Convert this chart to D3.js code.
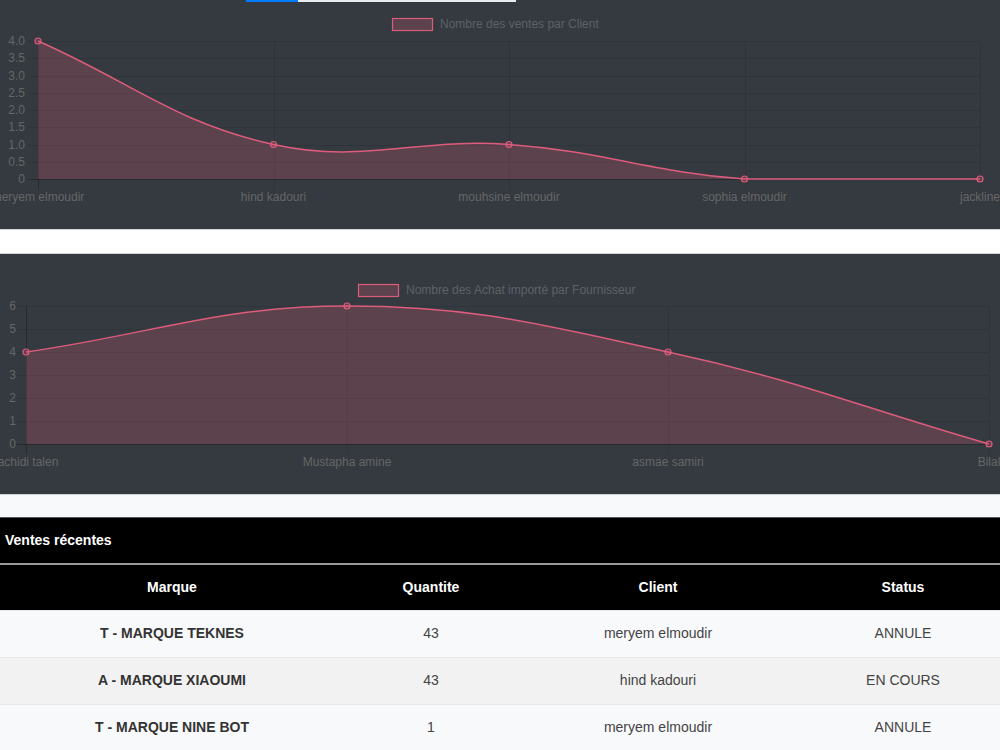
<!DOCTYPE html>
<html lang="fr">
<head>
<meta charset="UTF-8">
<title>Tableau de bord</title>
<script src="https://d3js.org/d3.v7.min.js"></script>
<style>
    body { margin: 0; background: #fff; overflow: hidden; }
    svg { display: block; font-family: "Liberation Sans", Arial, Helvetica, sans-serif; }
</style>
</head>
<body>
<svg width="1000" height="750"></svg>
<script>
    // chart 1 : ventes par client
    const clients = ["meryem elmoudir", "hind kadouri", "mouhsine elmoudir", "sophia elmoudir", "jackline"];
    const ventes = [4, 1, 1, 0, 0];
    const ventesTicks = [0, 0.5, 1, 1.5, 2, 2.5, 3, 3.5, 4];

    // chart 2 : achats par fournisseur
    const fournisseurs = ["rachidi talen", "Mustapha amine", "asmae samiri", "Bilal"];
    const achats = [4, 6, 4, 0];
    const achatsTicks = [0, 1, 2, 3, 4, 5, 6];

    // table ventes recentes
    const colonnes = ["Marque", "Quantite", "Client", "Status"];
    const marques = ["T - MARQUE TEKNES", "A - MARQUE XIAOUMI", "T - MARQUE NINE BOT"];
    const quantites = [43, 43, 1];
    const clientsVente = ["meryem elmoudir", "hind kadouri", "meryem elmoudir"];
    const statuts = ["ANNULE", "EN COURS", "ANNULE"];

    const svg = d3.select("svg");
    const lineColor = "#dd5c7c";
    const fillColor = "rgba(255,99,132,0.2)";
    const tickColor = "#666";

    // chart.js style bezier (tension 0.4, control points capped to the area)
    function splinePath(pts, area, baseY) {
        const t = 0.4;
        const cps = pts.map((p, i) => {
            const prev = pts[i - 1] || p, next = pts[i + 1] || p;
            const d01 = Math.hypot(p[0] - prev[0], p[1] - prev[1]);
            const d12 = Math.hypot(next[0] - p[0], next[1] - p[1]);
            let s01 = d01 / (d01 + d12), s12 = d12 / (d01 + d12);
            if (isNaN(s01)) s01 = 0;
            if (isNaN(s12)) s12 = 0;
            const fa = t * s01, fb = t * s12;
            const cap = c => [Math.max(area.left, Math.min(area.right, c[0])), Math.max(area.top, Math.min(area.bottom, c[1]))];
            return {
                prev: cap([p[0] - fa * (next[0] - prev[0]), p[1] - fa * (next[1] - prev[1])]),
                next: cap([p[0] + fb * (next[0] - prev[0]), p[1] + fb * (next[1] - prev[1])])
            };
        });
        const path = d3.path();
        path.moveTo(pts[0][0], pts[0][1]);
        for (let i = 1; i < pts.length; i++) {
            const a = cps[i - 1].next, b = cps[i].prev;
            path.bezierCurveTo(a[0], a[1], b[0], b[1], pts[i][0], pts[i][1]);
        }
        const line = path.toString();
        if (baseY == null) return line;
        const last = pts[pts.length - 1];
        return line + `L${last[0]},${baseY}L${pts[0][0]},${baseY}Z`;
    }

    function drawChart(opt) {
        const g = svg.append("g");
        g.append("rect").attr("x", 0).attr("y", opt.top).attr("width", 1000).attr("height", opt.height).attr("fill", "#343a40");

        const x = d3.scalePoint().domain(opt.labels).range(opt.xRange);
        const y = d3.scaleLinear().domain([0, d3.max(opt.ticks)]).range(opt.yRange);
        const area = { left: opt.xRange[0], right: opt.xRange[1], top: opt.yRange[1], bottom: opt.yRange[0] };

        // horizontal grid + ticks
        g.selectAll(".hgrid").data(opt.ticks).join("line")
            .attr("x1", area.left - 10).attr("x2", area.right)
            .attr("y1", d => Math.round(y(d)) + 0.5).attr("y2", d => Math.round(y(d)) + 0.5)
            .attr("stroke", d => d === 0 ? "rgba(0,0,0,0.25)" : "rgba(0,0,0,0.1)");
        g.selectAll(".ylab").data(opt.ticks).join("text")
            .attr("x", area.left - opt.labelGap).attr("y", d => y(d)).attr("dy", "0.35em")
            .attr("text-anchor", "end").attr("font-size", 12).attr("fill", tickColor)
            .text(opt.tickFormat);

        // vertical grid + ticks
        g.selectAll(".vgrid").data(opt.labels).join("line")
            .attr("x1", d => Math.round(x(d)) + 0.5).attr("x2", d => Math.round(x(d)) + 0.5)
            .attr("y1", area.top).attr("y2", area.bottom + 10)
            .attr("stroke", (d, i) => i === 0 ? "rgba(0,0,0,0.25)" : "rgba(0,0,0,0.1)");
        g.selectAll(".xlab").data(opt.labels).join("text")
            .attr("x", d => x(d)).attr("y", area.bottom + 22)
            .attr("text-anchor", "middle").attr("font-size", 12).attr("fill", tickColor)
            .text(d => d);

        // area + line
        const pts = opt.labels.map((l, i) => [x(l), y(opt.values[i])]);
        g.append("path").attr("d", splinePath(pts, area, y(0))).attr("fill", fillColor);
        g.append("path").attr("d", splinePath(pts, area)).attr("fill", "none")
            .attr("stroke", lineColor).attr("stroke-width", 1.5);
        g.selectAll(".pt").data(pts).join("circle")
            .attr("cx", d => d[0]).attr("cy", d => d[1]).attr("r", 3)
            .attr("fill", fillColor).attr("stroke", lineColor).attr("stroke-width", 1.2);

        // legend
        const lg = g.append("g");
        lg.append("rect").attr("x", opt.legendX + 0.5).attr("y", opt.legendY + 0.5).attr("width", 40).attr("height", 12)
            .attr("fill", fillColor).attr("stroke", lineColor).attr("stroke-width", 1.2);
        lg.append("text").attr("x", opt.legendX + 48).attr("y", opt.legendY + 6).attr("dy", "0.35em")
            .attr("font-size", 12).attr("fill", "#5d6166").text(opt.title);
    }

    drawChart({
        top: 0, height: 229, labels: clients, values: ventes, ticks: ventesTicks,
        xRange: [38, 980], yRange: [179, 41], labelGap: 13,
        tickFormat: d => d === 0 ? "0" : d.toFixed(1),
        legendX: 392, legendY: 18, title: "Nombre des ventes par Client"
    });

    // little progress bar at the very top
    svg.append("rect").attr("x", 246).attr("y", 0).attr("width", 270).attr("height", 2).attr("fill", "#e9ecef");
    svg.append("rect").attr("x", 246).attr("y", 0).attr("width", 52).attr("height", 2).attr("fill", "#007bff");

    // white gap between charts
    svg.append("line").attr("x1", 0).attr("x2", 1000).attr("y1", 229.5).attr("y2", 229.5).attr("stroke", "#d6d6d6");
    svg.append("line").attr("x1", 0).attr("x2", 1000).attr("y1", 253.5).attr("y2", 253.5).attr("stroke", "#d6d6d6");

    drawChart({
        top: 254, height: 240, labels: fournisseurs, values: achats, ticks: achatsTicks,
        xRange: [26, 989], yRange: [444, 306], labelGap: 10,
        tickFormat: d => String(d),
        legendX: 358, legendY: 284, title: "Nombre des Achat importé par Fournisseur"
    });

    svg.append("rect").attr("x", 0).attr("y", 494).attr("width", 1000).attr("height", 23).attr("fill", "#f8f9fa");
    svg.append("line").attr("x1", 0).attr("x2", 1000).attr("y1", 494.5).attr("y2", 494.5).attr("stroke", "#cfd2d4");

    // table
    const tbl = svg.append("g");
    tbl.append("rect").attr("x", 0).attr("y", 517).attr("width", 1000).attr("height", 93).attr("fill", "#000");
    tbl.append("line").attr("x1", 0).attr("x2", 1000).attr("y1", 517.5).attr("y2", 517.5).attr("stroke", "#555");
    tbl.append("line").attr("x1", 0).attr("x2", 1000).attr("y1", 564).attr("y2", 564).attr("stroke", "#9a9a9a").attr("stroke-width", 2);
    tbl.append("text").attr("x", 5).attr("y", 540).attr("dy", "0.35em").attr("font-size", 14)
        .attr("font-weight", "bold").attr("fill", "#fff").text("Ventes récentes");

    const colX = d3.scaleOrdinal().domain(colonnes).range([172, 431, 658, 903]);
    tbl.selectAll(".th").data(colonnes).join("text")
        .attr("x", d => colX(d)).attr("y", 587).attr("dy", "0.35em").attr("text-anchor", "middle")
        .attr("font-size", 14).attr("font-weight", "bold").attr("fill", "#fff").text(d => d);

    const rows = marques.map((m, i) => [m, quantites[i], clientsVente[i], statuts[i]]);
    const rowY = d3.scaleBand().domain(d3.range(rows.length)).range([610, 751]);
    const tr = tbl.selectAll(".tr").data(rows).join("g").attr("transform", (d, i) => `translate(0,${rowY(i)})`);
    tr.append("rect").attr("width", 1000).attr("height", rowY.bandwidth())
        .attr("fill", (d, i) => i % 2 ? "#f2f2f2" : "#f8f9fa");
    tr.append("line").attr("x1", 0).attr("x2", 1000).attr("y1", 0.5).attr("y2", 0.5).attr("stroke", "#e6e8ea");
    tr.selectAll("text").data(d => d).join("text")
        .attr("x", (d, j) => colX(colonnes[j])).attr("y", rowY.bandwidth() / 2).attr("dy", "0.35em")
        .attr("text-anchor", "middle").attr("font-size", 14)
        .attr("font-weight", (d, j) => j === 0 ? "bold" : "normal")
        .attr("fill", (d, j) => j === 0 ? "#333" : "#444")
        .text(d => d);
</script>
</body>
</html>
